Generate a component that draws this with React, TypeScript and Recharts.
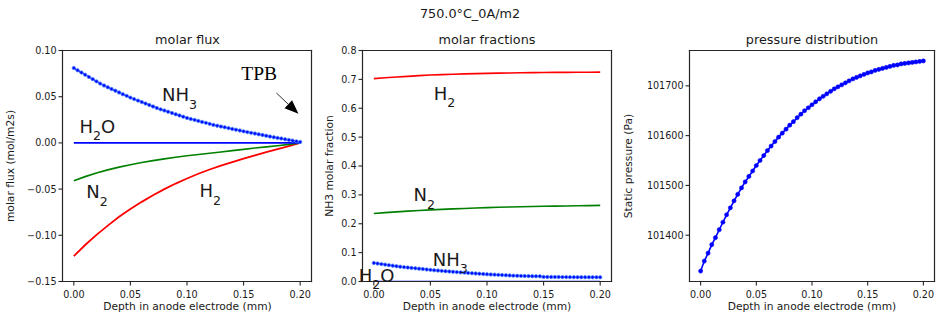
import React from 'react';
import { LineChart, Line, XAxis, YAxis, ReferenceDot, ReferenceLine } from 'recharts';

// ---------- data ----------
const depthFine = [
  0, 0.0033, 0.0067, 0.01, 0.0133, 0.0167, 0.02, 0.0233, 0.0267, 0.03,
  0.0333, 0.0367, 0.04, 0.0433, 0.0467, 0.05, 0.0533, 0.0567, 0.06, 0.0633,
  0.0667, 0.07, 0.0733, 0.0767, 0.08, 0.0833, 0.0867, 0.09, 0.0933, 0.0967,
  0.1, 0.1033, 0.1067, 0.11, 0.1133, 0.1167, 0.12, 0.1233, 0.1267, 0.13,
  0.1333, 0.1367, 0.14, 0.1433, 0.1467, 0.15, 0.1533, 0.1567, 0.16, 0.1633,
  0.1667, 0.17, 0.1733, 0.1767, 0.18, 0.1833, 0.1867, 0.19, 0.1933, 0.1967, 0.2,
];
const depthCoarse = [
  0, 0.01, 0.02, 0.03, 0.04, 0.05, 0.06, 0.07, 0.08, 0.09, 0.1,
  0.11, 0.12, 0.13, 0.14, 0.15, 0.16, 0.17, 0.18, 0.19, 0.2,
];

const fluxNH3 = [
  0.081, 0.0786, 0.0762, 0.0738, 0.0714, 0.069, 0.0666, 0.0642, 0.0621, 0.0602,
  0.0583, 0.0565, 0.0546, 0.0527, 0.0509, 0.049, 0.0474, 0.0458, 0.0442, 0.0426,
  0.041, 0.0394, 0.0378, 0.0363, 0.035, 0.0337, 0.0323, 0.031, 0.0297, 0.0283,
  0.027, 0.0259, 0.0249, 0.0238, 0.0227, 0.0217, 0.0206, 0.0195, 0.0186, 0.0177,
  0.0169, 0.016, 0.0151, 0.0143, 0.0134, 0.0125, 0.0117, 0.0109, 0.0101, 0.0093,
  0.0085, 0.0077, 0.0069, 0.0061, 0.0054, 0.0047, 0.0039, 0.0032, 0.0025, 0.0017, 0.001,
];
const fluxH2 = [
  -0.1225, -0.1105, -0.0995, -0.0895, -0.08, -0.0715, -0.0638, -0.0566, -0.05, -0.044, -0.0385,
  -0.0334, -0.0288, -0.0246, -0.0207, -0.017, -0.0135, -0.0101, -0.0067, -0.0034, 0,
];
const fluxN2 = [
  -0.041, -0.0365, -0.0325, -0.0292, -0.0262, -0.0236, -0.0213, -0.0192, -0.0173, -0.0155, -0.0139,
  -0.0125, -0.0112, -0.0098, -0.0084, -0.007, -0.0056, -0.0043, -0.003, -0.0016, 0,
];
const fluxH2O = [0, 0, 0, 0, 0, 0, 0, 0, 0, 0, 0, 0, 0, 0, 0, 0, 0, 0, 0, 0, 0];

const fracH2 = [
  0.7026, 0.7055, 0.708, 0.7105, 0.713, 0.715, 0.7165, 0.7178, 0.719, 0.72, 0.7208,
  0.7215, 0.7222, 0.7228, 0.7233, 0.7237, 0.7241, 0.7244, 0.7247, 0.7249, 0.725,
];
const fracN2 = [
  0.2355, 0.2385, 0.2412, 0.2437, 0.246, 0.248, 0.2498, 0.2515, 0.253, 0.2545, 0.256,
  0.2571, 0.2581, 0.259, 0.2598, 0.2605, 0.2611, 0.2617, 0.2623, 0.2629, 0.2635,
];
const fracNH3 = [
  0.064, 0.0622, 0.0603, 0.0585, 0.0566, 0.0548, 0.053, 0.0512, 0.0497, 0.0484,
  0.0471, 0.0457, 0.0444, 0.0431, 0.0417, 0.0404, 0.0389, 0.0379, 0.0368, 0.0357,
  0.0347, 0.0336, 0.0325, 0.0316, 0.0307, 0.0297, 0.0288, 0.0279, 0.0269, 0.026,
  0.025, 0.0243, 0.0237, 0.023, 0.0223, 0.0217, 0.021, 0.0203, 0.0198, 0.0194,
  0.019, 0.0187, 0.0184, 0.0182, 0.018, 0.016, 0.0158, 0.0156, 0.0155, 0.0154,
  0.0153, 0.0152, 0.0151, 0.015, 0.0149, 0.0149, 0.0148, 0.0148, 0.0147, 0.0147, 0.0146,
];
const fracH2O = [0, 0, 0, 0, 0, 0, 0, 0, 0, 0, 0, 0, 0, 0, 0, 0, 0, 0, 0, 0, 0];

const pressure = [
  101328, 101348, 101364, 101381, 101395, 101411, 101426, 101441, 101455, 101469,
  101482, 101495, 101507, 101518, 101529, 101540, 101550, 101560, 101570, 101579,
  101588, 101597, 101605, 101613, 101621, 101628, 101636, 101643, 101650, 101656,
  101662, 101668, 101674, 101679, 101684, 101689, 101694, 101698, 101702, 101706,
  101710, 101714, 101717, 101720, 101723, 101726, 101728, 101731, 101733, 101735,
  101737, 101739, 101741, 101742, 101744, 101745, 101746, 101747, 101748, 101749, 101750,
];

const xTicks = [0, 0.05, 0.1, 0.15, 0.2];
const fluxTicks = [-0.15, -0.1, -0.05, 0, 0.05, 0.1];
const fracTicks = [0, 0.1, 0.2, 0.3, 0.4, 0.5, 0.6, 0.7, 0.8];
const pressureTicks = [101400, 101500, 101600, 101700];

const fluxLabels = [
  { main: 'NH', sub: '3', tail: '', x: 0.078, y: 0.045 },
  { main: 'H', sub: '2', tail: 'O', x: 0.005, y: 0.011 },
  { main: 'N', sub: '2', tail: '', x: 0.011, y: -0.06 },
  { main: 'H', sub: '2', tail: '', x: 0.111, y: -0.059 },
];
const tpbLabel = { text: 'TPB', x: 0.148, y: 0.068 };
const tpbArrow = [{ x: 0.179, y: 0.054 }, { x: 0.1985, y: 0.0315 }];

const fracLabels = [
  { main: 'H', sub: '2', tail: '', x: 0.053, y: 0.63 },
  { main: 'N', sub: '2', tail: '', x: 0.035, y: 0.278 },
  { main: 'NH', sub: '3', tail: '', x: 0.052, y: 0.055 },
  { main: 'H', sub: '2', tail: 'O', x: -0.0134, y: 0.0 },
];

// ---------- helpers ----------
const zip = (xs: number[], ys: number[]) => xs.map((x, i) => ({ x, v: ys[i] }));
const FONT = '"DejaVu Sans", sans-serif';
const INK = '#1a1a1a';
const SPINE = '#262626';
const BLUE = '#0000ff';
const GREEN = '#008000';
const RED = '#ff0000';
const XDOM: [number, number] = [-0.01, 0.21];
const TICK_SIZE = 4;
const X_TICK_MARGIN = 6;
const Y_TICK_MARGIN = 2;

const fmt2 = (v: number) => (v < 0 ? '\u2212' : '') + Math.abs(v).toFixed(2);
const fmt1 = (v: number) => v.toFixed(1);
const fmt0 = (v: number) => String(v);

const ChemLabel = (props: any) => {
  const { viewBox, main, sub, tail } = props;
  const x = viewBox ? viewBox.x + (viewBox.width || 0) / 2 : 0;
  const y = viewBox ? viewBox.y + (viewBox.height || 0) / 2 : 0;
  return (
    <text x={x} y={y} fontFamily={FONT} fontSize={18} fill={INK}>
      {main}
      <tspan fontSize={12.6} dy={7.5}>{sub}</tspan>
      {tail ? <tspan fontSize={18} dy={-7.5}>{tail}</tspan> : null}
    </text>
  );
};

const SerifLabel = (props: any) => {
  const { viewBox, text } = props;
  const x = viewBox ? viewBox.x + (viewBox.width || 0) / 2 : 0;
  const y = viewBox ? viewBox.y + (viewBox.height || 0) / 2 : 0;
  return (
    <text x={x} y={y} fontFamily='"Liberation Serif", serif' fontSize={19.5} fill="#000">
      {text}
    </text>
  );
};

const ArrowShape = (p: any) => {
  const { x1, y1, x2, y2 } = p;
  const dx = x2 - x1;
  const dy = y2 - y1;
  const L = Math.hypot(dx, dy) || 1;
  const ux = dx / L;
  const uy = dy / L;
  const hl = 14;
  const hw = 5.5;
  const bx = x2 - ux * hl;
  const by = y2 - uy * hl;
  const px = -uy;
  const py = ux;
  return (
    <g>
      <line x1={x1} y1={y1} x2={bx} y2={by} stroke="#333" strokeWidth={1} />
      <polygon
        points={`${x2},${y2} ${bx + px * hw},${by + py * hw} ${bx - px * hw},${by - py * hw}`}
        fill="#000"
      />
    </g>
  );
};

const SpineShape = (p: any) => (
  <line x1={p.x1} y1={p.y1} x2={p.x2} y2={p.y2} stroke={SPINE} strokeWidth={1.2} strokeLinecap="square" />
);

const XTick = (p: any) => {
  const { x, y, value, fmt } = p;
  const yAxisLine = y - TICK_SIZE - X_TICK_MARGIN;
  return (
    <g>
      <line x1={x} y1={yAxisLine} x2={x} y2={yAxisLine + TICK_SIZE} stroke={SPINE} strokeWidth={1.1} />
      <text x={x} y={y} dy="0.71em" textAnchor="middle" fontSize={9.6} fontFamily={FONT} fill={INK}>
        {fmt(value)}
      </text>
    </g>
  );
};

const YTick = (p: any) => {
  const { x, y, value, fmt } = p;
  const xAxisLine = x + TICK_SIZE + Y_TICK_MARGIN;
  return (
    <g>
      <line x1={xAxisLine - TICK_SIZE} y1={y} x2={xAxisLine} y2={y} stroke={SPINE} strokeWidth={1.1} />
      <text x={x} y={y} dy="0.355em" textAnchor="end" fontSize={9.6} fontFamily={FONT} fill={INK}>
        {fmt(value)}
      </text>
    </g>
  );
};

const xAxisEl = () => (
  <XAxis
    type="number"
    dataKey="x"
    domain={XDOM}
    ticks={xTicks}
    allowDataOverflow
    interval={0}
    height={30}
    tickSize={TICK_SIZE}
    tickMargin={X_TICK_MARGIN}
    axisLine={false}
    tickLine={false}
    tick={(p: any) => <XTick x={p.x} y={p.y} value={p.payload.value} fmt={fmt2} />}
  />
);

const yAxisEl = (domain: [number, number], ticks: number[], fmt: (v: number) => string, width: number) => (
  <YAxis
    type="number"
    domain={domain}
    ticks={ticks}
    allowDataOverflow
    interval={0}
    width={width}
    tickSize={TICK_SIZE}
    tickMargin={Y_TICK_MARGIN}
    axisLine={false}
    tickLine={false}
    tick={(p: any) => <YTick x={p.x} y={p.y} value={p.payload.value} fmt={fmt} />}
  />
);

// four spines, placed on the axis domain corners
const frame = (ymin: number, ymax: number) => [
  <ReferenceLine key="b" segment={[{ x: XDOM[0], y: ymin }, { x: XDOM[1], y: ymin }]} shape={SpineShape} ifOverflow="visible" />,
  <ReferenceLine key="t" segment={[{ x: XDOM[0], y: ymax }, { x: XDOM[1], y: ymax }]} shape={SpineShape} ifOverflow="visible" />,
  <ReferenceLine key="l" segment={[{ x: XDOM[0], y: ymin }, { x: XDOM[0], y: ymax }]} shape={SpineShape} ifOverflow="visible" />,
  <ReferenceLine key="r" segment={[{ x: XDOM[1], y: ymin }, { x: XDOM[1], y: ymax }]} shape={SpineShape} ifOverflow="visible" />,
];

const markerDot = { r: 1.7, fill: BLUE, stroke: '#4d8dff', strokeWidth: 0.8 };
const chartMargin = { top: 50.5, right: 8.5, bottom: 8.5, left: 0 };

const FluxChart = () => (
  <LineChart width={320} height={320} margin={chartMargin}>
    {xAxisEl()}
    {yAxisEl([-0.15, 0.1], fluxTicks, fmt2, 62.5)}
    <Line data={zip(depthCoarse, fluxH2)} dataKey="v" type="linear" stroke={RED} strokeWidth={1.8} dot={false} isAnimationActive={false} />
    <Line data={zip(depthCoarse, fluxN2)} dataKey="v" type="linear" stroke={GREEN} strokeWidth={1.6} dot={false} isAnimationActive={false} />
    <Line data={zip(depthCoarse, fluxH2O)} dataKey="v" type="linear" stroke={BLUE} strokeWidth={1.6} dot={false} isAnimationActive={false} />
    <Line data={zip(depthFine, fluxNH3)} dataKey="v" type="linear" stroke={BLUE} strokeWidth={1.5} dot={markerDot} isAnimationActive={false} />
    {fluxLabels.map((l, i) => (
      <ReferenceDot key={i} x={l.x} y={l.y} r={0} fill="none" stroke="none" ifOverflow="visible"
        label={<ChemLabel main={l.main} sub={l.sub} tail={l.tail} />} />
    ))}
    <ReferenceDot x={tpbLabel.x} y={tpbLabel.y} r={0} fill="none" stroke="none" ifOverflow="visible"
      label={<SerifLabel text={tpbLabel.text} />} />
    <ReferenceLine segment={tpbArrow} shape={ArrowShape} ifOverflow="visible" />
    {frame(-0.15, 0.1)}
  </LineChart>
);

const FracChart = () => (
  <LineChart width={320} height={320} margin={chartMargin}>
    {xAxisEl()}
    {yAxisEl([0, 0.8], fracTicks, fmt1, 62.5)}
    <Line data={zip(depthCoarse, fracH2)} dataKey="v" type="linear" stroke={RED} strokeWidth={1.6} dot={false} isAnimationActive={false} />
    <Line data={zip(depthCoarse, fracN2)} dataKey="v" type="linear" stroke={GREEN} strokeWidth={1.6} dot={false} isAnimationActive={false} />
    <Line data={zip(depthCoarse, fracH2O)} dataKey="v" type="linear" stroke={BLUE} strokeWidth={1.6} dot={false} isAnimationActive={false} />
    <Line data={zip(depthFine, fracNH3)} dataKey="v" type="linear" stroke={BLUE} strokeWidth={1.5} dot={markerDot} isAnimationActive={false} />
    {fracLabels.map((l, i) => (
      <ReferenceDot key={i} x={l.x} y={l.y} r={0} fill="none" stroke="none" ifOverflow="visible"
        label={<ChemLabel main={l.main} sub={l.sub} tail={l.tail} />} />
    ))}
    {frame(0, 0.8)}
  </LineChart>
);

const PressureChart = () => (
  <LineChart width={316} height={320} margin={{ top: 50.5, right: 1.5, bottom: 8.5, left: 0 }}>
    {xAxisEl()}
    {yAxisEl([101307, 101771], pressureTicks, fmt0, 69.5)}
    <Line data={zip(depthFine, pressure)} dataKey="v" type="linear" stroke={BLUE} strokeWidth={1.6}
      dot={{ r: 2.1, fill: BLUE, stroke: BLUE, strokeWidth: 0.5 }} isAnimationActive={false} />
    {frame(101307, 101771)}
  </LineChart>
);

const xLabel = 'Depth in anode electrode (mm)';

export default function App() {
  return (
    <div style={{ position: 'absolute', left: 0, top: 0, width: 936, height: 320 }}>
      <svg width={936} height={320} style={{ position: 'absolute', left: 0, top: 0 }}>
        <g fontFamily={FONT} fill={INK}>
          <text x={470} y={18} fontSize={12.8} textAnchor="middle">750.0°C_0A/m2</text>
          <text x={187.5} y={44} fontSize={12.8} textAnchor="middle">molar flux</text>
          <text x={487} y={44} fontSize={12.8} textAnchor="middle">molar fractions</text>
          <text x={812} y={44} fontSize={12.8} textAnchor="middle">pressure distribution</text>
          <text x={187.5} y={310} fontSize={10.7} textAnchor="middle">{xLabel}</text>
          <text x={487} y={310} fontSize={10.7} textAnchor="middle">{xLabel}</text>
          <text x={812} y={310} fontSize={10.7} textAnchor="middle">{xLabel}</text>
          <text x={14} y={166} fontSize={10.7} textAnchor="middle" transform="rotate(-90 14 166)">molar flux (mol/m2s)</text>
          <text x={333} y={166} fontSize={10.7} textAnchor="middle" transform="rotate(-90 333 166)">NH3 molar fraction</text>
          <text x={632} y={166} fontSize={10.7} textAnchor="middle" transform="rotate(-90 632 166)">Static pressure (Pa)</text>
        </g>
      </svg>
      <div style={{ position: 'absolute', left: 0, top: 0 }}><FluxChart /></div>
      <div style={{ position: 'absolute', left: 300, top: 0 }}><FracChart /></div>
      <div style={{ position: 'absolute', left: 620, top: 0 }}><PressureChart /></div>
    </div>
  );
}
